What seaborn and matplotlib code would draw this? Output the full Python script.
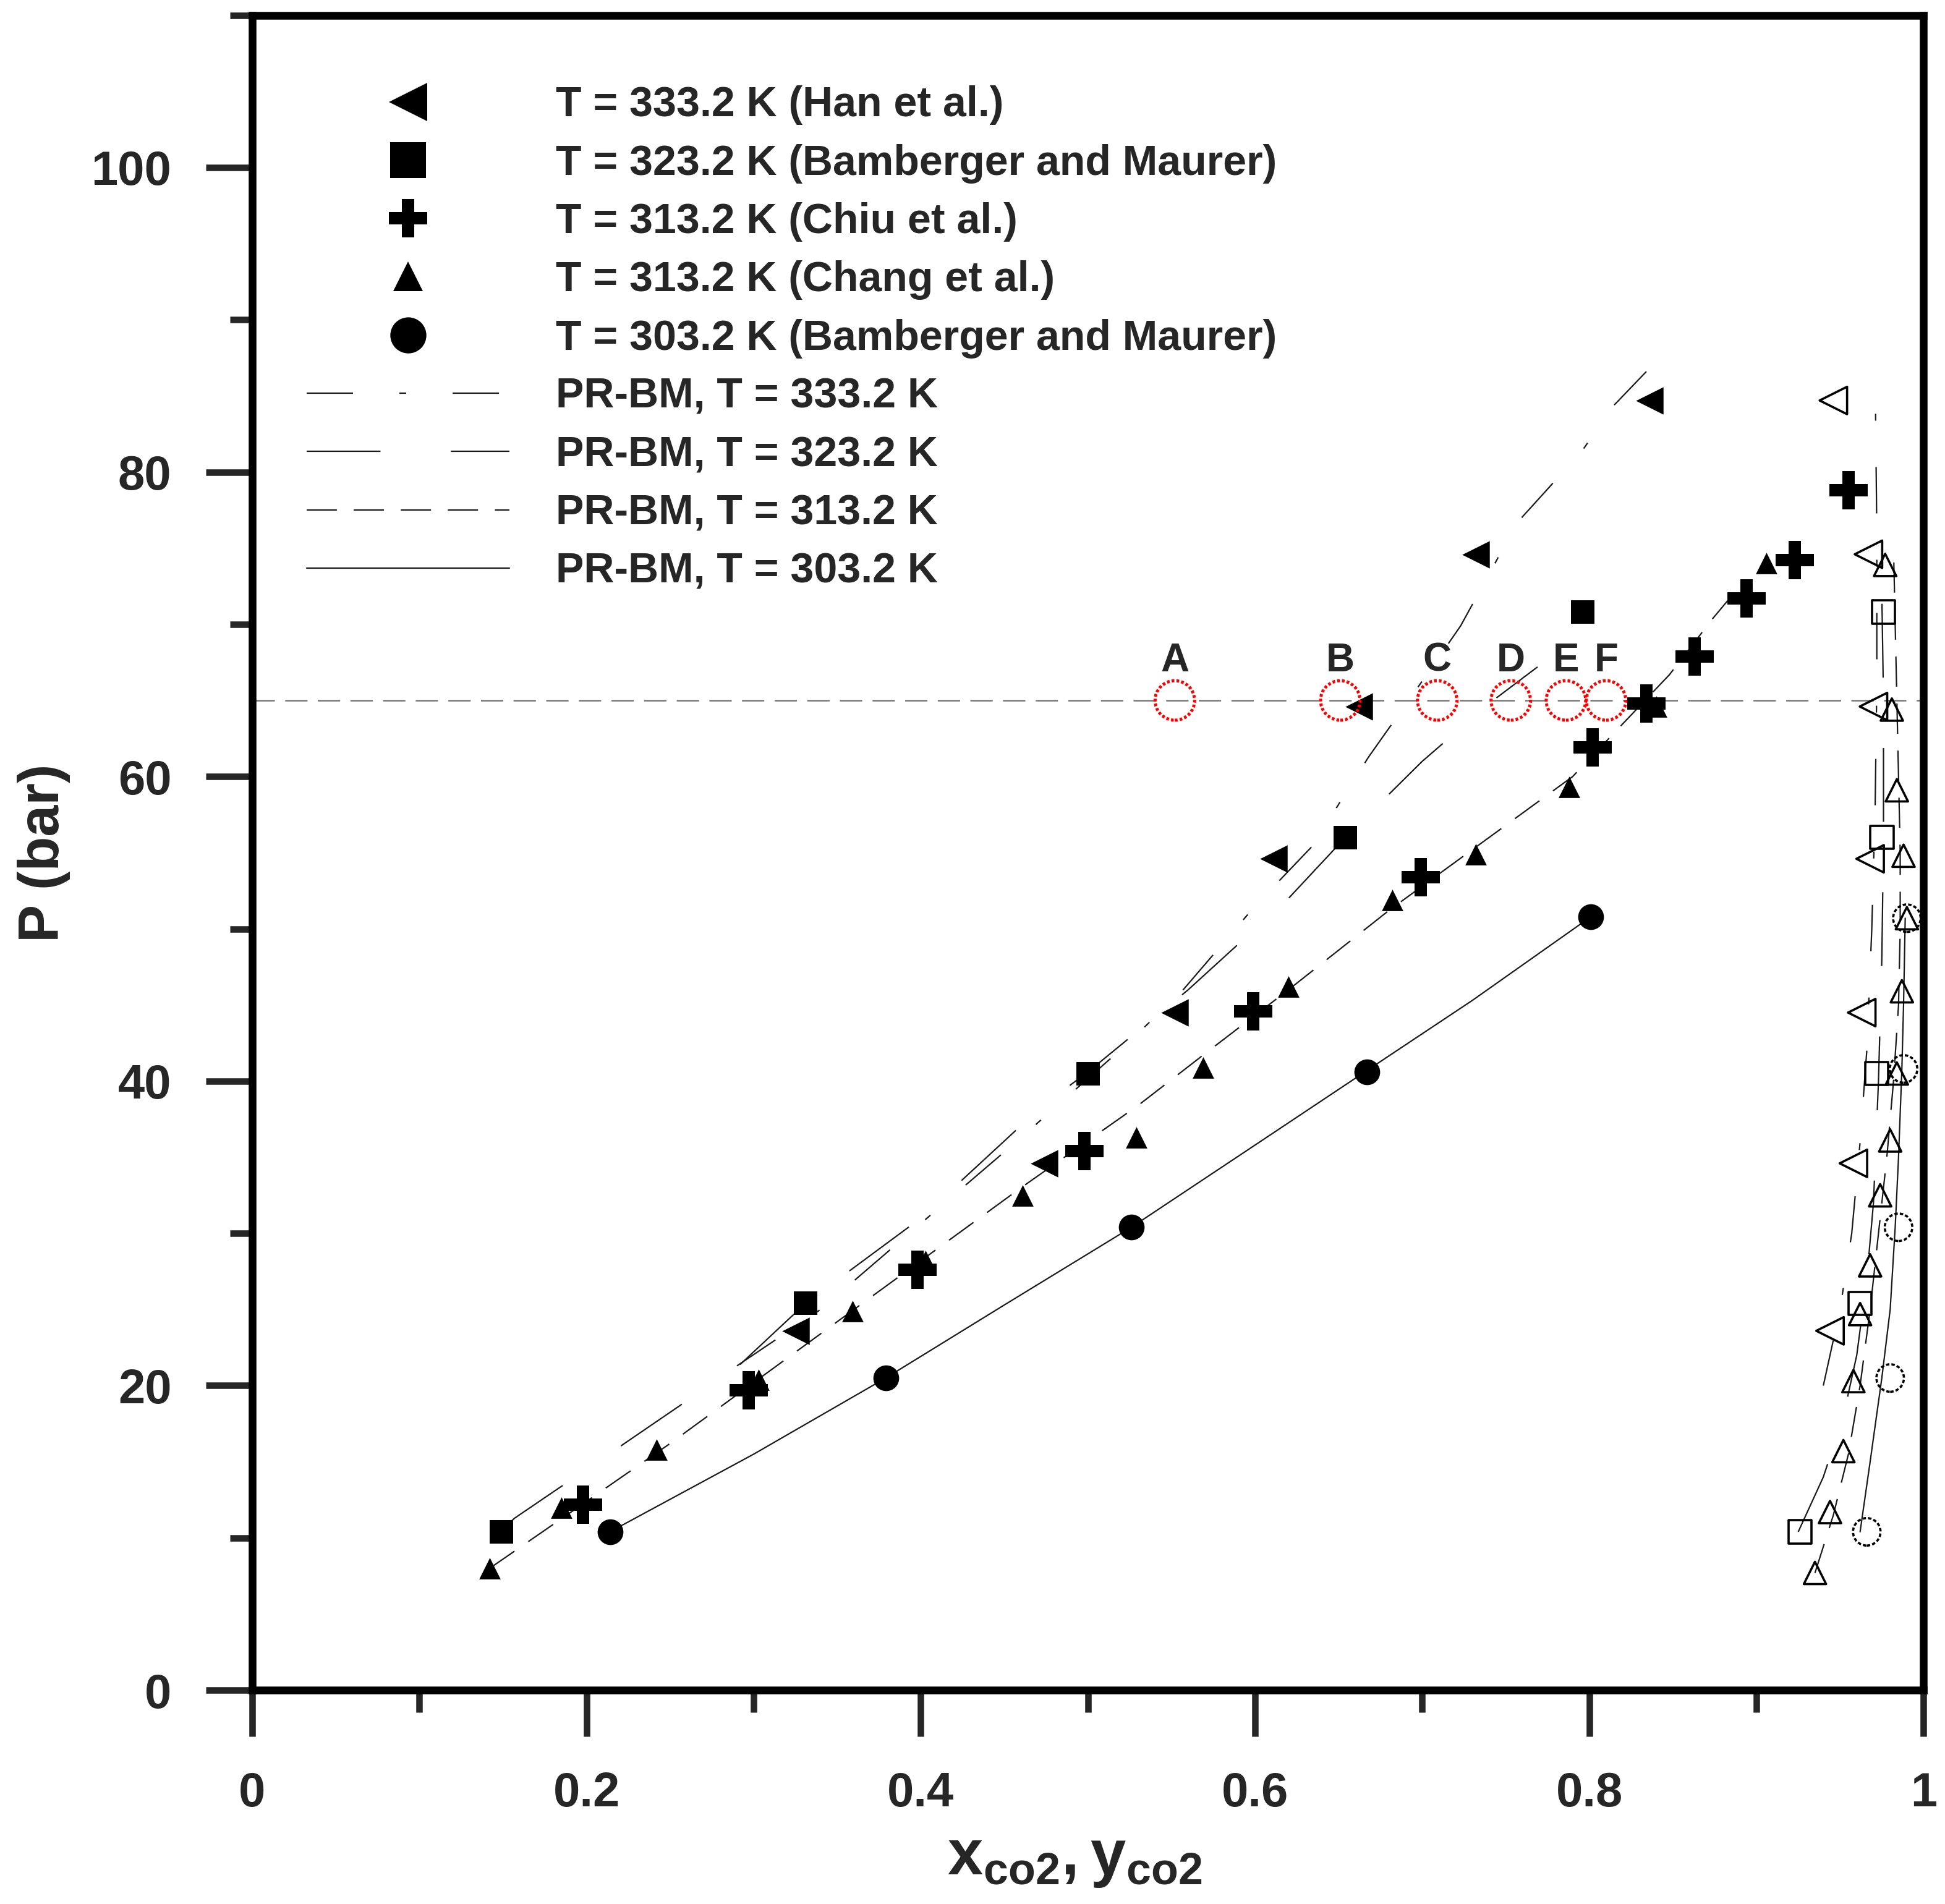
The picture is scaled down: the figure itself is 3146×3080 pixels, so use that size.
import numpy as np
import pandas as pd
import seaborn as sns
import matplotlib.pyplot as plt
from matplotlib.lines import Line2D

# experimental data, liquid (x) and vapour (y) branches
han_x = [0.325, 0.474, 0.552, 0.611, 0.662, 0.732, 0.836]
han_p = [23.6, 34.6, 44.5, 54.6, 64.6, 74.6, 84.7]
han_y = [0.944, 0.958, 0.963, 0.968, 0.970, 0.967, 0.946]
han_py = [23.6, 34.6, 44.5, 54.6, 64.6, 74.6, 84.7]

bm323_x = [0.149, 0.331, 0.500, 0.654, 0.796]
bm323_p = [10.4, 25.4, 40.5, 56.0, 70.8]
bm323_y = [0.926, 0.962, 0.972, 0.975, 0.976]
bm323_py = [10.4, 25.4, 40.5, 56.0, 70.8]

chiu_x = [0.198, 0.297, 0.398, 0.498, 0.599, 0.699, 0.802, 0.834, 0.863, 0.894, 0.923, 0.955]
chiu_p = [12.2, 19.7, 27.6, 35.4, 44.6, 53.4, 61.9, 64.8, 67.9, 71.7, 74.2, 78.8]

chang_x = [0.142, 0.185, 0.242, 0.303, 0.359, 0.403, 0.461, 0.529, 0.569, 0.620, 0.682,
           0.732, 0.788, 0.840, 0.906]
chang_p = [8.0, 12.0, 15.8, 20.4, 24.9, 28.2, 32.5, 36.3, 40.9, 46.2, 51.9, 54.9, 59.3, 64.6, 74.0]
chang_y = [0.935, 0.944, 0.952, 0.958, 0.962, 0.968, 0.974, 0.980, 0.984, 0.987, 0.990,
           0.988, 0.984, 0.981, 0.977]
chang_py = [7.7, 11.7, 15.7, 20.3, 24.7, 27.9, 32.5, 36.1, 40.5, 45.9, 50.7, 54.8, 59.1, 64.4, 73.9]

bm303_x = [0.214, 0.379, 0.526, 0.667, 0.801]
bm303_p = [10.4, 20.5, 30.4, 40.6, 50.8]
bm303_y = [0.966, 0.980, 0.985, 0.988, 0.990]
bm303_py = [10.4, 20.5, 30.4, 40.8, 50.7]

# PR-BM model curves
pr333_lx = [0.290, 0.340, 0.392, 0.458, 0.523, 0.557, 0.600, 0.634, 0.668, 0.706, 0.723,
            0.757, 0.776, 0.797, 0.814, 0.835]
pr333_lp = [21.3, 25.0, 29.9, 36.1, 42.4, 46.0, 51.5, 55.4, 61.3, 67.2, 69.9, 76.7, 79.0,
            81.6, 84.3, 86.7]
pr333_vx = [0.940, 0.950, 0.957, 0.962, 0.966, 0.969, 0.971, 0.972, 0.972, 0.971]
pr333_vp = [20.0, 25.0, 30.0, 36.0, 42.0, 50.0, 58.0, 66.0, 76.0, 86.7]

pr323_lx = [0.150, 0.157, 0.220, 0.292, 0.331, 0.400, 0.473, 0.500, 0.560, 0.620, 0.654,
            0.700, 0.740, 0.769]
pr323_lp = [10.6, 11.3, 16.0, 21.4, 25.4, 31.0, 38.4, 40.6, 46.0, 52.0, 56.0, 61.0, 64.8, 67.2]
pr323_vx = [0.925, 0.940, 0.952, 0.960, 0.966, 0.970, 0.973, 0.975, 0.976, 0.976, 0.975]
pr323_vp = [10.4, 14.0, 18.0, 22.0, 27.0, 32.0, 40.0, 48.0, 56.0, 65.0, 72.0]

pr313_lx = [0.142, 0.200, 0.250, 0.300, 0.360, 0.400, 0.460, 0.530, 0.570, 0.620, 0.680,
            0.730, 0.790, 0.848, 0.874, 0.890]
pr313_lp = [8.0, 12.4, 16.2, 20.2, 25.0, 28.2, 33.0, 38.4, 41.8, 46.0, 51.2, 55.2, 60.0,
            66.7, 70.4, 72.5]
pr313_vx = [0.935, 0.946, 0.955, 0.962, 0.968, 0.973, 0.978, 0.982, 0.985, 0.986, 0.986,
            0.985, 0.984, 0.982]
pr313_vp = [7.7, 11.5, 15.5, 20.0, 25.0, 30.0, 35.0, 40.0, 45.0, 50.0, 55.0, 60.0, 65.0, 75.0]

pr303_lx = [0.214, 0.300, 0.379, 0.450, 0.526, 0.600, 0.667, 0.730, 0.801]
pr303_lp = [10.4, 15.5, 20.5, 25.3, 30.4, 35.8, 40.7, 45.3, 50.8]
pr303_vx = [0.962, 0.968, 0.975, 0.980, 0.983, 0.985, 0.987, 0.988, 0.989]
pr303_vp = [10.4, 15.0, 20.5, 25.0, 30.4, 35.0, 40.8, 45.0, 50.7]

# marked points at 65 bar
pt_labels = ["A", "B", "C", "D", "E", "F"]
pt_x = [0.552, 0.651, 0.709, 0.753, 0.786, 0.810]
pt_p = 65.0

legend_labels = ["T = 333.2 K (Han et al.)", "T = 323.2 K (Bamberger and Maurer)",
                 "T = 313.2 K (Chiu et al.)", "T = 313.2 K (Chang et al.)",
                 "T = 303.2 K (Bamberger and Maurer)",
                 "PR-BM, T = 333.2 K", "PR-BM, T = 323.2 K", "PR-BM, T = 313.2 K",
                 "PR-BM, T = 303.2 K"]

sns.set_style("white")
plt.rcParams['font.family'] = ['Liberation Sans', 'DejaVu Sans']
plt.rcParams['font.weight'] = 'bold'
plt.rcParams['lines.scale_dashes'] = False
plt.rcParams['mathtext.fontset'] = 'custom'
plt.rcParams['mathtext.rm'] = 'Liberation Sans:bold'
plt.rcParams['mathtext.it'] = 'Liberation Sans:bold'
plt.rcParams['mathtext.bf'] = 'Liberation Sans:bold'

fig = plt.figure(figsize=(15.73, 15.4), dpi=200)
ax = fig.add_axes([0.1297, 0.1123, 0.8593, 0.8797])

line_col = '#1a1a1a'
styles = {
    '333': (0, (27, 27, 4, 27)),
    '323': (0, (43, 41)),
    '313': (0, (17.6, 9.8)),
    '303': '-',
}
curves = [('333', pr333_lx, pr333_lp), ('333', pr333_vx, pr333_vp),
          ('323', pr323_lx, pr323_lp), ('323', pr323_vx, pr323_vp),
          ('313', pr313_lx, pr313_lp), ('313', pr313_vx, pr313_vp),
          ('303', pr303_lx, pr303_lp), ('303', pr303_vx, pr303_vp)]
for key, cx, cp in curves:
    sns.lineplot(x=cx, y=cp, ax=ax, sort=False, estimator=None, color=line_col,
                 lw=0.8, linestyle=styles[key], legend=False)

ax.axhline(pt_p, color='#777777', lw=0.9, linestyle=(0, (13, 6)), zorder=1)

# filled liquid points
sns.scatterplot(x=han_x, y=han_p, ax=ax, marker='<', s=16**2, color='black', linewidth=0, zorder=4)
sns.scatterplot(x=bm323_x, y=bm323_p, ax=ax, marker='s', s=13.5**2, color='black', linewidth=0, zorder=4)
sns.scatterplot(x=chiu_x, y=chiu_p, ax=ax, marker='P', s=22**2, color='black', linewidth=0, zorder=4)
sns.scatterplot(x=chang_x, y=chang_p, ax=ax, marker='^', s=12.5**2, color='black', linewidth=0, zorder=4)
sns.scatterplot(x=bm303_x, y=bm303_p, ax=ax, marker='o', s=15**2, color='black', linewidth=0, zorder=4)

# open vapour points
open_kw = dict(facecolor='none', edgecolor='black', linewidth=1.3, zorder=4)
sns.scatterplot(x=han_y, y=han_py, ax=ax, marker='<', s=16**2, **open_kw)
sns.scatterplot(x=bm323_y, y=bm323_py, ax=ax, marker='s', s=13.5**2, **open_kw)
sns.scatterplot(x=chang_y, y=chang_py, ax=ax, marker='^', s=13**2, **open_kw)
sns.scatterplot(x=bm303_y, y=bm303_py, ax=ax, marker='o', s=16**2, linestyle=(0, (2, 1.2)), **open_kw)

# red dotted circles A-F
sns.scatterplot(x=pt_x, y=[pt_p] * len(pt_x), ax=ax, marker='o', s=23**2, facecolor='none',
                edgecolor='red', linewidth=1.8, linestyle=(0, (1.6, 1.2)), zorder=5)
for lab, px in zip(pt_labels, pt_x):
    ax.text(px, pt_p + 1.4, lab, ha='center', va='bottom', fontsize=23, fontweight='bold')

ax.set_xlim(0, 1)
ax.set_ylim(0, 110)
ax.set_xticks([0, 0.2, 0.4, 0.6, 0.8, 1.0])
ax.set_xticklabels(['0', '0.2', '0.4', '0.6', '0.8', '1'])
ax.set_xticks([0.1, 0.3, 0.5, 0.7, 0.9], minor=True)
ax.set_yticks([0, 20, 40, 60, 80, 100])
ax.set_yticks([10, 30, 50, 70, 90, 110], minor=True)
ax.tick_params(which='major', direction='out', length=27, width=3.8, labelsize=28, pad=20,
               bottom=True, left=True)
ax.tick_params(which='minor', direction='out', length=13, width=3.8, bottom=True, left=True)
for lab in ax.get_xticklabels() + ax.get_yticklabels():
    lab.set_fontweight('bold')
for sp in ax.spines.values():
    sp.set_linewidth(4.5)
    sp.set_color('black')

ax.set_ylabel('P (bar)', fontsize=33, fontweight='bold', labelpad=12)
ax.set_xlabel(r'$\mathbf{x_{co2}, y_{co2}}$', fontsize=37, labelpad=6)
ax.xaxis.set_label_coords(0.492, -0.083)

handles = [
    Line2D([], [], ls='none', marker='<', ms=22, color='black', mew=0),
    Line2D([], [], ls='none', marker='s', ms=21, color='black', mew=0),
    Line2D([], [], ls='none', marker='P', ms=22, color='black', mew=0),
    Line2D([], [], ls='none', marker='^', ms=17, color='black', mew=0),
    Line2D([], [], ls='none', marker='o', ms=21, color='black', mew=0),
    Line2D([], [], color=line_col, lw=0.8, ls=styles['333']),
    Line2D([], [], color=line_col, lw=0.8, ls=styles['323']),
    Line2D([], [], color=line_col, lw=0.8, ls=styles['313']),
    Line2D([], [], color=line_col, lw=0.8, ls=styles['303']),
]
leg = ax.legend(handles, legend_labels, loc='upper left', bbox_to_anchor=(0.0327, 0.958),
                frameon=False, fontsize=24.5, handlelength=4.82, handletextpad=1.09,
                labelspacing=0.445, borderpad=0, borderaxespad=0, numpoints=1)
for t in leg.get_texts():
    t.set_fontweight('bold')

fig.savefig('out.png', dpi=200)
